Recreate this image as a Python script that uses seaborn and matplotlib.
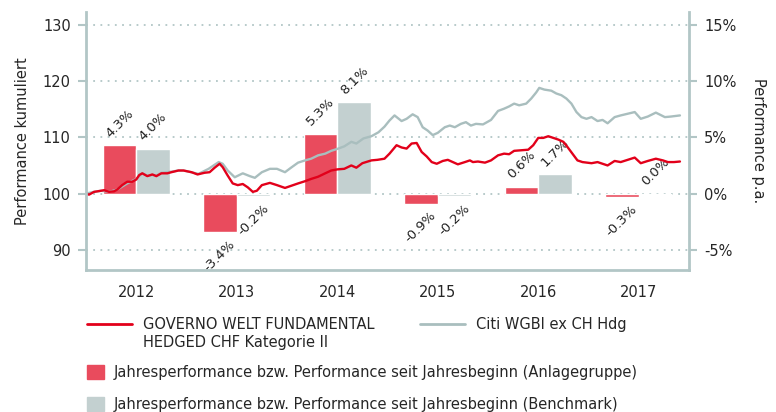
import matplotlib
matplotlib.use("Agg")
import matplotlib.pyplot as plt
import matplotlib.ticker as mticker
from matplotlib.lines import Line2D
from matplotlib.patches import Patch
import seaborn as sns
import pandas as pd

# Jahresperformance (%)
years = [2012, 2013, 2014, 2015, 2016, 2017]
perf_fund = [4.3, -3.4, 5.3, -0.9, 0.6, -0.3]
perf_bench = [4.0, -0.2, 8.1, -0.2, 1.7, 0.0]

# Performance kumuliert (Start = 100), Zeit in Jahren
fund_t = [2012.00, 2012.03, 2012.08, 2012.15, 2012.18, 2012.23, 2012.28, 2012.31, 2012.36, 2012.41,
          2012.46, 2012.50, 2012.53, 2012.56, 2012.61, 2012.66, 2012.70, 2012.75, 2012.81, 2012.85,
          2012.92, 2012.97, 2013.05, 2013.11, 2013.18, 2013.23, 2013.28, 2013.33, 2013.36, 2013.41,
          2013.46, 2013.51, 2013.56, 2013.61, 2013.66, 2013.70, 2013.75, 2013.83, 2013.90, 2013.98,
          2014.11, 2014.18, 2014.24, 2014.31, 2014.38, 2014.44, 2014.50, 2014.57, 2014.64, 2014.69,
          2014.75, 2014.84, 2014.90, 2014.97, 2015.02, 2015.09, 2015.14, 2015.19, 2015.24, 2015.29,
          2015.34, 2015.39, 2015.44, 2015.49, 2015.55, 2015.60, 2015.65, 2015.70, 2015.77, 2015.82,
          2015.85, 2015.90, 2015.97, 2016.03, 2016.10, 2016.16, 2016.21, 2016.26, 2016.33, 2016.40,
          2016.45, 2016.50, 2016.55, 2016.60, 2016.65, 2016.70, 2016.75, 2016.79, 2016.84, 2016.89,
          2016.94, 2017.03, 2017.09, 2017.14, 2017.19, 2017.26, 2017.32, 2017.39, 2017.46, 2017.52,
          2017.59, 2017.67, 2017.74, 2017.79, 2017.85, 2017.91]
fund_v = [100.0, 99.8, 100.3, 100.5, 100.6, 100.3, 100.4, 100.7, 101.5, 102.1,
          102.1, 102.5, 103.3, 103.6, 103.1, 103.4, 103.1, 103.6, 103.6, 103.8,
          104.1, 104.1, 103.8, 103.4, 103.7, 103.8, 104.6, 105.3, 104.7, 103.2,
          101.8, 101.5, 101.7, 101.1, 100.3, 100.5, 101.5, 101.9, 101.5, 101.0,
          101.8, 102.2, 102.6, 103.0, 103.6, 104.1, 104.3, 104.4, 105.0, 104.6,
          105.4, 105.9, 106.0, 106.2, 107.1, 108.6, 108.2, 108.0, 108.9, 109.0,
          107.4, 106.6, 105.6, 105.3, 105.8, 106.0, 105.6, 105.2, 105.6, 105.9,
          105.6, 105.7, 105.5, 105.9, 106.8, 107.1, 107.0, 107.6, 107.7, 107.8,
          108.6, 109.9, 109.9, 110.2, 109.9, 109.6, 109.2, 108.3, 107.1, 105.9,
          105.6, 105.4, 105.6, 105.3, 105.0, 105.8, 105.6, 106.0, 106.4, 105.4,
          105.8, 106.2, 105.9, 105.6, 105.6, 105.7]

bench_t = [2012.00, 2012.08, 2012.15, 2012.23, 2012.31, 2012.41, 2012.50, 2012.56, 2012.61, 2012.66,
           2012.70, 2012.75, 2012.85, 2012.92, 2012.97, 2013.12, 2013.22, 2013.32, 2013.36, 2013.41,
           2013.48, 2013.56, 2013.63, 2013.68, 2013.75, 2013.83, 2013.90, 2013.98, 2014.04, 2014.11,
           2014.18, 2014.24, 2014.31, 2014.38, 2014.44, 2014.51, 2014.57, 2014.64, 2014.69, 2014.76,
           2014.84, 2014.91, 2014.97, 2015.02, 2015.07, 2015.14, 2015.19, 2015.25, 2015.30, 2015.35,
           2015.40, 2015.45, 2015.50, 2015.57, 2015.62, 2015.67, 2015.73, 2015.78, 2015.83, 2015.88,
           2015.95, 2016.03, 2016.10, 2016.16, 2016.21, 2016.26, 2016.31, 2016.38, 2016.43, 2016.48,
           2016.51, 2016.56, 2016.63, 2016.68, 2016.73, 2016.78, 2016.83, 2016.88, 2016.93, 2016.98,
           2017.03, 2017.09, 2017.14, 2017.19, 2017.26, 2017.32, 2017.39, 2017.46, 2017.52, 2017.59,
           2017.67, 2017.76, 2017.82, 2017.91]
bench_v = [100.0, 100.3, 100.5, 100.3, 100.7, 101.8, 102.6, 103.6, 103.2, 103.3,
           103.2, 103.7, 103.9, 104.1, 104.1, 103.5, 104.4, 105.6, 105.3, 104.1,
           102.9, 103.6, 103.1, 102.8, 103.8, 104.4, 104.4, 103.8, 104.6, 105.5,
           105.9, 106.2, 106.8, 107.1, 107.6, 108.0, 108.4, 109.2, 108.9, 109.8,
           110.2, 110.9, 111.9, 113.0, 113.9, 112.9, 113.3, 114.1, 113.6, 111.8,
           111.2, 110.4, 110.8, 111.8, 112.1, 111.8, 112.4, 112.7, 112.1, 112.4,
           112.3, 113.1, 114.7, 115.1, 115.5, 116.0, 115.7, 116.0, 116.9, 118.0,
           118.8, 118.5, 118.3, 117.8, 117.5, 116.9, 116.0, 114.5, 113.6, 113.3,
           113.6, 112.9, 113.1, 112.5, 113.6, 113.9, 114.2, 114.5, 113.3, 113.7,
           114.4, 113.6, 113.7, 113.9]

name_fund = ["GOVERNO WELT FUNDAMENTAL", "HEDGED CHF Kategorie II"]
name_bench = "Citi WGBI ex CH Hdg"
bar_fund = "Jahresperformance bzw. Performance seit Jahresbeginn (Anlagegruppe)"
bar_bench = "Jahresperformance bzw. Performance seit Jahresbeginn (Benchmark)"

red_line = "#e2001a"
gray_line = "#a9bebe"
red_bar = "#e94b5d"
gray_bar = "#c3d0d0"
axis_col = "#b2c6c6"

sns.set_style("white")
plt.rcParams["font.family"] = ["DejaVu Sans"]
plt.rcParams["axes.unicode_minus"] = False
fs = 10.5

fig = plt.figure(figsize=(7.76, 4.12), dpi=100)
ax = fig.add_axes([86 / 776, 1 - 270 / 412, 603 / 776, 258 / 412])
ax_bar = ax.twinx()
ax.set_zorder(ax_bar.get_zorder() + 1)
ax.patch.set_visible(False)

# Balken (rechte Achse)
df_bar = pd.DataFrame({
    "Jahr": [y + 0.5 for y in years] * 2,
    "Perf": perf_fund + perf_bench,
    "Serie": ["Anlagegruppe"] * len(years) + ["Benchmark"] * len(years),
})
sns.barplot(data=df_bar, x="Jahr", y="Perf", hue="Serie", native_scale=True,
            palette=[red_bar, gray_bar], saturation=1, width=0.67, gap=0,
            errorbar=None, legend=False, ax=ax_bar)
for cont in ax_bar.containers:
    ax_bar.bar_label(cont, labels=[f"{b.get_height():.1f}%" for b in cont],
                     rotation=45, padding=4, fontsize=9.5, color="#222222")

# Linien (linke Achse)
sns.lineplot(x=bench_t, y=bench_v, color=gray_line, linewidth=1.7, ax=ax)
sns.lineplot(x=fund_t, y=fund_v, color=red_line, linewidth=1.7, ax=ax)

ax.set_xlim(2012, 2018)
ax.set_ylim(86.4, 132.3)
ax_bar.set_ylim((86.4 - 100) / 2, (132.3 - 100) / 2)
ax.set_yticks([90, 100, 110, 120, 130])
ax_bar.set_yticks([-5, 0, 5, 10, 15])
ax_bar.yaxis.set_major_formatter(mticker.StrMethodFormatter("{x:.0f}%"))

ax.xaxis.set_major_locator(mticker.FixedLocator(years + [2018]))
ax.xaxis.set_major_formatter(mticker.NullFormatter())
ax.xaxis.set_minor_locator(mticker.FixedLocator([y + 0.5 for y in years]))
ax.xaxis.set_minor_formatter(mticker.FixedFormatter([str(y) for y in years]))
ax.tick_params(axis="x", which="major", length=7, width=1.5, color=axis_col)
ax.tick_params(axis="x", which="minor", length=0, pad=11, labelsize=fs)
ax.tick_params(axis="y", length=6, width=1.5, color=axis_col, pad=5, labelsize=fs, left=True)
ax_bar.tick_params(axis="y", length=6, width=1.5, color=axis_col, pad=5, labelsize=fs, right=True)

ax_bar.grid(axis="y", linestyle=(0, (1, 3)), color=axis_col, linewidth=1.3)
ax_bar.set_axisbelow(True)

for s in ax_bar.spines.values():
    s.set_visible(False)
ax.spines["top"].set_visible(False)
for s in ["left", "right", "bottom"]:
    ax.spines[s].set_color(axis_col)
    ax.spines[s].set_linewidth(2)

ax.set_xlabel("")
ax.set_ylabel("Performance kumuliert", fontsize=fs, labelpad=9)
ax_bar.set_ylabel("Performance p.a.", fontsize=fs, rotation=270, labelpad=21)

# Legende
leg_kw = dict(frameon=False, fontsize=fs, borderpad=0, borderaxespad=0, loc="upper left")
fig.legend([Line2D([], [], color=red_line, lw=2), Line2D([], [], color="none")],
           name_fund, bbox_to_anchor=(87 / 776, 1 - 317 / 412),
           handlelength=3.1, handletextpad=0.75, labelspacing=0.2, **leg_kw)
fig.legend([Line2D([], [], color=gray_line, lw=2)], [name_bench],
           bbox_to_anchor=(420 / 776, 1 - 317 / 412),
           handlelength=3.1, handletextpad=0.75, **leg_kw)
fig.legend([Patch(color=red_bar)], [bar_fund], bbox_to_anchor=(87 / 776, 1 - 365 / 412),
           handlelength=1.15, handleheight=1.15, handletextpad=0.65, **leg_kw)
fig.legend([Patch(color=gray_bar)], [bar_bench], bbox_to_anchor=(87 / 776, 1 - 397 / 412),
           handlelength=1.15, handleheight=1.15, handletextpad=0.65, **leg_kw)

fig.savefig("out.png", dpi=100)
